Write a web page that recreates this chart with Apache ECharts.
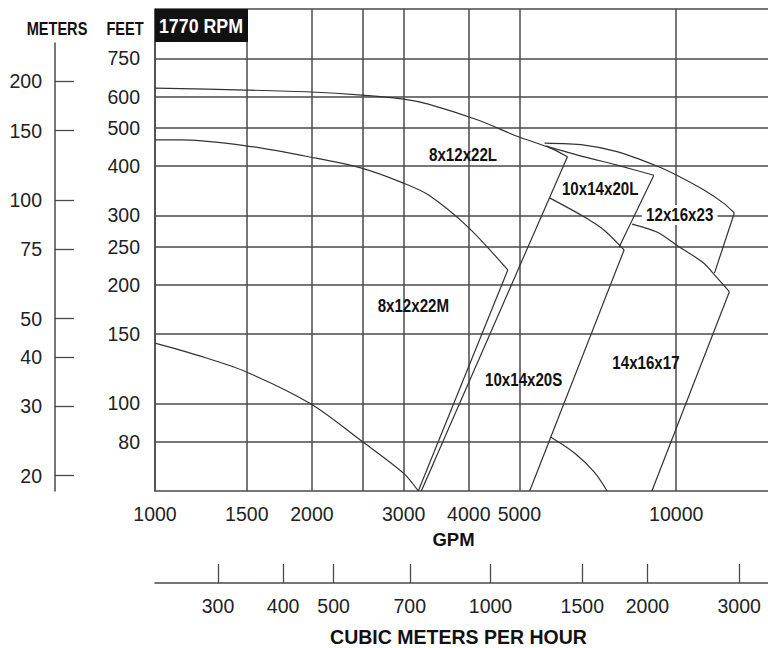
<!DOCTYPE html>
<html><head><meta charset="utf-8">
<script src="https://cdn.jsdelivr.net/npm/echarts@6/dist/echarts.min.js"></script>
<style>html,body{margin:0;padding:0;background:#fff}#c{width:768px;height:648px}</style>
</head><body><div id="c"></div>
<script>
// ---- axis tick values ----
const gpmTicks = [1000, 1500, 2000, 2500, 3000, 4000, 5000, 10000];
const gpmLabels = [1000, 1500, 2000, 3000, 4000, 5000, 10000];
const feetTicks = [80, 100, 150, 200, 250, 300, 400, 500, 600, 750, 1000];
const feetLabels = [80, 100, 150, 200, 250, 300, 400, 500, 600, 750];
const meterTicks = [20, 30, 40, 50, 75, 100, 150, 200];
const cmhTicks = [300, 400, 500, 700, 1000, 1500, 2000, 3000];

// ---- pump envelope curves [GPM, feet] ----
const L22Top = [[1000,630],[1497,623],[1992,616],[2492,605],[2997,591],[3344,574],[4165,523],[4965,475],[5739,444],[6184,422]];
const L22Edge = [[6184,422],[3243,60]];
const M22Top = [[1000,466],[1116,466],[1497,450],[1992,421],[2492,395],[2997,362],[3344,338],[3987,280],[4752,218]];
const M22Edge = [[4752,218],[3200,60]];
const M22Min = [[1000,142.3],[1218,132],[1497,120.2],[1992,99.7],[2492,80.3],[2997,66.6],[3200,60]];
const L20Top = [[5615,450],[6664,422],[7701,402],[9060,379]];
const L20Edge = [[9060,379],[7769,249]];
const T23Top = [[5590,457],[6664,452],[7701,435],[9180,400],[10023,379],[11283,348],[12320,322],[12927,304]];
const T23Edge = [[12927,304],[11840,214]];
const S20Top = [[5714,332],[6664,297],[7274,275],[7943,245]];
const S20Edge = [[7943,245],[5234,60]];
const F17Top = [[8227,285],[9180,272],[10023,252],[11283,227],[11946,209],[12647,192]];
const F17Edge = [[12647,192],[8981,60]];
const F17Min = [[5739,82.2],[6378,74.9],[6963,67.0],[7371,60]];

const modelNames = ['8x12x22L', '10x14x20L', '12x16x23', '8x12x22M', '10x14x20S', '14x16x17'];
const modelLabelAt = [[3900,426],[7147,350],[10155,300.5],[3131,176.6],[5097,114.7],[8748,126.7]];

const FT_PER_M = 3.28084;
const CMH_PER_GPM = 0.2271247;
const gpmMin = 1000, gpmMax = 15000, ftMin = 60, ftMax = 1000, mTop = 250;

const FONT = "'Liberation Sans', Arial, Helvetica, sans-serif";
const lineCol = '#333';
const gridCol = '#4a4a4a';
const plain = v => String(v);

function curve(data, smooth) {
  return { type: 'line', xAxisIndex: 0, yAxisIndex: 0, data: data, symbol: 'none', smooth: smooth ? 0.3 : false,
    silent: true, lineStyle: { color: lineCol, width: 1.2 }, z: 3 };
}

const series = [
  curve(L22Top, true), curve(L22Edge, false),
  curve(M22Top, true), curve(M22Edge, false), curve(M22Min, true),
  curve(L20Top, true), curve(L20Edge, false),
  curve(T23Top, true), curve(T23Edge, false),
  curve(S20Top, true), curve(S20Edge, false),
  curve(F17Top, true), curve(F17Edge, false), curve(F17Min, true),
  {
    type: 'custom', xAxisIndex: 0, yAxisIndex: 0, silent: true, z: 5,
    data: modelLabelAt,
    encode: { x: 0, y: 1 },
    renderItem: function (params, api) {
      const p = api.coord([api.value(0), api.value(1)]);
      const name = modelNames[params.dataIndex];
      const boxed = name === '12x16x23';
      return {
        type: 'text', x: p[0], y: p[1], scaleX: 0.84, z2: 10,
        style: {
          text: name, fill: '#111', font: 'bold 18px ' + FONT,
          textAlign: 'center', align: 'center', verticalAlign: 'middle', textVerticalAlign: 'middle',
          backgroundColor: boxed ? '#fff' : null, padding: boxed ? [1, 5] : 0
        }
      };
    }
  }
];

const chart = echarts.init(document.getElementById('c'), null, { renderer: 'svg' });
chart.setOption({
  animation: false,
  backgroundColor: '#fff',
  grid: [
    { left: 155, top: 9, width: 617, height: 482 },
    { left: 55, top: 43, width: 10, height: 448 },
    { left: 155, top: 500, width: 617, height: 86 }
  ],
  xAxis: [
    { type: 'log', logBase: 10, gridIndex: 0, min: gpmMin, max: gpmMax,
      axisLine: { show: true, lineStyle: { color: gridCol, width: 1.5 } },
      axisTick: { show: false, customValues: gpmTicks },
      axisLabel: { customValues: gpmLabels, formatter: plain, fontSize: 19.5, fontFamily: FONT, color: '#222', margin: 13 },
      splitLine: { show: true, lineStyle: { color: gridCol, width: 1.5 } },
      name: 'GPM', nameLocation: 'middle', nameGap: 39,
      nameTextStyle: { fontFamily: FONT, fontWeight: 'bold', fontSize: 18.5, color: '#111', padding: [0, 16, 0, 0] } },
    { type: 'value', gridIndex: 1, show: false },
    { type: 'log', logBase: 10, gridIndex: 2, min: gpmMin * CMH_PER_GPM, max: gpmMax * CMH_PER_GPM, position: 'bottom',
      axisLine: { show: true, lineStyle: { color: gridCol, width: 1.5 } },
      axisTick: { show: true, inside: true, length: 19, customValues: cmhTicks, lineStyle: { color: gridCol, width: 1.3 } },
      axisLabel: { customValues: cmhTicks, formatter: plain, fontSize: 19.5, fontFamily: FONT, color: '#222', margin: 13 },
      splitLine: { show: false },
      name: 'CUBIC METERS PER HOUR', nameLocation: 'middle', nameGap: 44,
      nameTextStyle: { fontFamily: FONT, fontWeight: 'bold', fontSize: 19.5, color: '#111', padding: [0, 6, 0, 0] } }
  ],
  yAxis: [
    { type: 'log', logBase: 10, gridIndex: 0, min: ftMin, max: ftMax,
      axisLine: { show: true, lineStyle: { color: gridCol, width: 1.5 } },
      axisTick: { show: false, customValues: feetTicks },
      axisLabel: { customValues: feetLabels, formatter: plain, fontSize: 19.5, fontFamily: FONT, color: '#222', margin: 15 },
      splitLine: { show: true, lineStyle: { color: gridCol, width: 1.5 } } },
    { type: 'log', logBase: 10, gridIndex: 1, min: ftMin / FT_PER_M, max: mTop, position: 'left',
      axisLine: { show: true, lineStyle: { color: gridCol, width: 1.5 } },
      axisTick: { show: true, inside: true, length: 19, customValues: meterTicks, lineStyle: { color: gridCol, width: 1.3 } },
      axisLabel: { customValues: meterTicks, formatter: plain, fontSize: 19.5, fontFamily: FONT, color: '#222', margin: 13 },
      splitLine: { show: false } },
    { type: 'value', gridIndex: 2, show: false }
  ],
  graphic: [
    { type: 'rect', shape: { x: 155, y: 9, width: 93, height: 33 }, style: { fill: '#111' }, z: 10 },
    { type: 'text', x: 201, y: 26, z: 11, scaleX: 0.89, style: { text: '1770 RPM', fill: '#fff', font: "bold 20px " + FONT, textAlign: 'center', verticalAlign: 'middle', textVerticalAlign: 'middle' } },
    { type: 'text', x: 125, y: 28, z: 11, scaleX: 0.81, style: { text: 'FEET', fill: '#111', font: "bold 18px " + FONT, textAlign: 'center', verticalAlign: 'middle', textVerticalAlign: 'middle' } },
    { type: 'text', x: 57, y: 28, z: 11, scaleX: 0.81, style: { text: 'METERS', fill: '#111', font: "bold 18px " + FONT, textAlign: 'center', verticalAlign: 'middle', textVerticalAlign: 'middle' } }
  ],
  series: series
});
</script>
</body></html>
